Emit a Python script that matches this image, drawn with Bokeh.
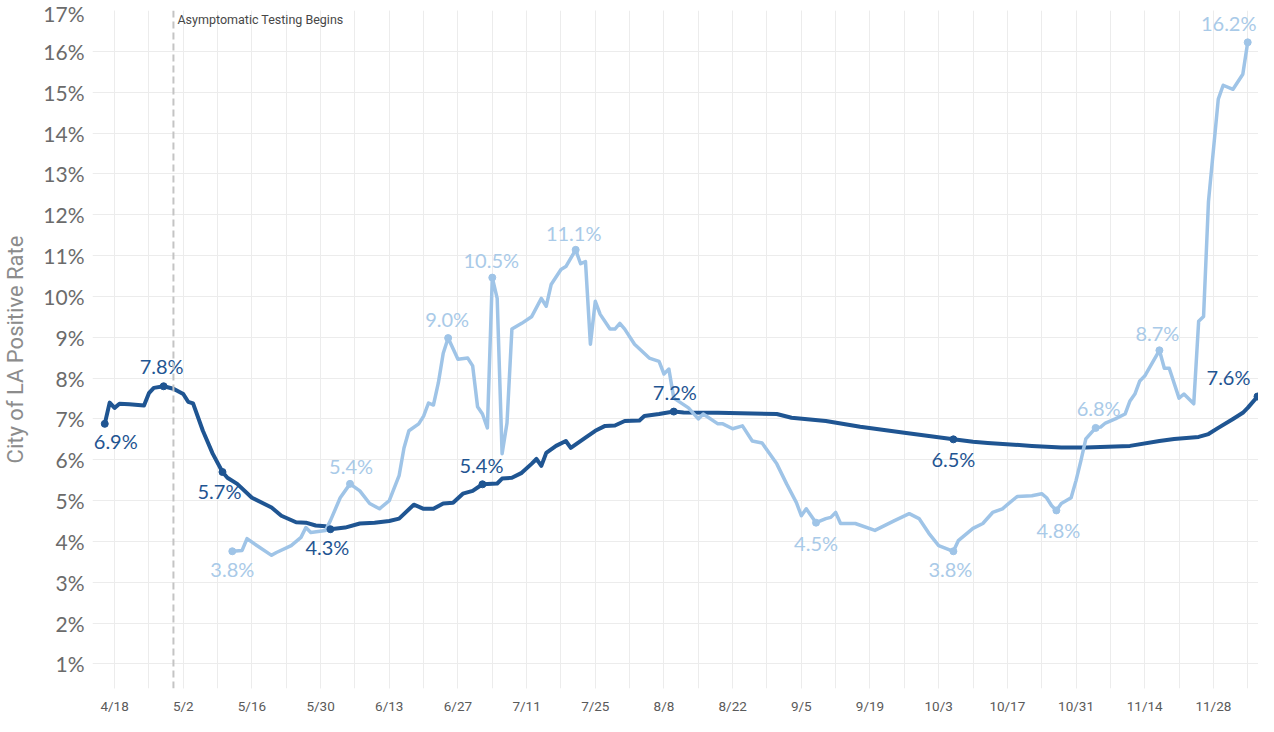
import pandas as pd
from bokeh.plotting import figure
from bokeh.models import FixedTicker, Span, ColumnDataSource, Range1d
from bokeh.core.properties import value
from bokeh.embed import file_html
from bokeh.resources import INLINE

BASE = pd.Timestamp("2020-04-18")

# ---- data ----
dark_dates = ["04-16", "04-17", "04-18", "04-19", "04-21", "04-24", "04-25", "04-26", "04-28", "04-30",
              "05-02", "05-03", "05-04", "05-06", "05-08", "05-10", "05-11", "05-13", "05-16", "05-20",
              "05-22", "05-25", "05-27", "05-29", "05-31", "06-01", "06-04", "06-07", "06-10", "06-13",
              "06-15", "06-18", "06-20", "06-22", "06-24", "06-26", "06-28", "06-30", "07-02", "07-05",
              "07-06", "07-08", "07-10", "07-12", "07-13", "07-14", "07-15", "07-17", "07-19", "07-20",
              "07-23", "07-25", "07-27", "07-29", "07-31", "08-03", "08-04", "08-07", "08-10", "08-12",
              "08-19", "08-31", "09-03", "09-10", "09-17", "09-26", "10-06", "10-10", "10-13", "10-22",
              "10-28", "11-02", "11-11", "11-17", "11-20", "11-25", "11-27", "11-29", "12-02", "12-04",
              "12-05", "12-07"]
dark_values = [6.88, 7.40, 7.27, 7.37, 7.36, 7.33, 7.63, 7.76, 7.80, 7.74,
               7.61, 7.42, 7.38, 6.71, 6.15, 5.70, 5.56, 5.41, 5.07, 4.83,
               4.63, 4.47, 4.46, 4.39, 4.37, 4.30, 4.34, 4.44, 4.46, 4.50,
               4.56, 4.90, 4.80, 4.80, 4.93, 4.95, 5.17, 5.24, 5.40, 5.42,
               5.54, 5.56, 5.68, 5.90, 6.02, 5.85, 6.17, 6.34, 6.46, 6.29,
               6.54, 6.71, 6.83, 6.84, 6.95, 6.96, 7.07, 7.12, 7.18, 7.16,
               7.15, 7.12, 7.03, 6.95, 6.81, 6.66, 6.50, 6.44, 6.41, 6.34,
               6.30, 6.30, 6.34, 6.46, 6.51, 6.56, 6.63, 6.78, 7.00, 7.15,
               7.27, 7.55]

light_dates = ["05-12", "05-14", "05-15", "05-17", "05-20", "05-21", "05-24", "05-26", "05-27", "05-28",
               "05-31", "06-01", "06-03", "06-05", "06-07", "06-09", "06-11", "06-13", "06-15", "06-16",
               "06-17", "06-19", "06-20", "06-21", "06-22", "06-23", "06-24", "06-25", "06-27", "06-29",
               "06-30", "07-01", "07-02", "07-03", "07-04", "07-05", "07-06", "07-07", "07-08", "07-10",
               "07-12", "07-14", "07-15", "07-16", "07-18", "07-19", "07-21", "07-22", "07-23", "07-24",
               "07-25", "07-26", "07-28", "07-29", "07-30", "07-31", "08-02", "08-05", "08-07", "08-08",
               "08-09", "08-10", "08-13", "08-15", "08-16", "08-19", "08-20", "08-22", "08-24", "08-26",
               "08-28", "08-31", "09-02", "09-04", "09-05", "09-06", "09-08", "09-10", "09-11", "09-12",
               "09-13", "09-16", "09-20", "09-24", "09-27", "09-29", "10-01", "10-03", "10-06", "10-07",
               "10-10", "10-12", "10-14", "10-16", "10-17", "10-19", "10-22", "10-24", "10-25", "10-26",
               "10-27", "10-28", "10-30", "10-31", "11-01", "11-02", "11-04", "11-05", "11-06", "11-08",
               "11-10", "11-11", "11-12", "11-13", "11-14", "11-17", "11-18", "11-19", "11-21", "11-22",
               "11-24", "11-25", "11-26", "11-27", "11-29", "11-30", "12-02", "12-04", "12-05"]
light_values = [3.76, 3.78, 4.07, 3.90, 3.66, 3.73, 3.90, 4.10, 4.34, 4.22,
                4.27, 4.51, 5.07, 5.41, 5.24, 4.93, 4.80, 5.00, 5.61, 6.29,
                6.71, 6.88, 7.07, 7.39, 7.34, 7.88, 8.61, 8.98, 8.46, 8.49,
                8.30, 7.30, 7.12, 6.78, 10.46, 9.95, 6.15, 6.90, 9.20, 9.34,
                9.50, 9.95, 9.76, 10.29, 10.66, 10.73, 11.14, 10.80, 10.85, 8.83,
                9.88, 9.56, 9.20, 9.20, 9.34, 9.20, 8.83, 8.49, 8.41, 8.10,
                8.22, 7.51, 7.27, 7.00, 7.12, 6.88, 6.88, 6.76, 6.83, 6.46,
                6.41, 5.90, 5.41, 4.95, 4.63, 4.80, 4.46, 4.56, 4.59, 4.71,
                4.44, 4.44, 4.27, 4.51, 4.68, 4.56, 4.20, 3.90, 3.76, 4.02,
                4.32, 4.44, 4.71, 4.80, 4.90, 5.10, 5.12, 5.17, 5.07, 4.88,
                4.76, 4.93, 5.07, 5.49, 5.98, 6.51, 6.78, 6.80, 6.90, 7.00,
                7.12, 7.44, 7.61, 7.93, 8.05, 8.68, 8.24, 8.24, 7.51, 7.61,
                7.37, 9.39, 9.51, 12.32, 14.83, 15.17, 15.07, 15.44, 16.22]

dark_label_dates = ["04-16", "04-28", "05-10", "06-01", "07-02", "08-10", "10-06", "12-07"]
dark_label_texts = ["6.9%", "7.8%", "5.7%", "4.3%", "5.4%", "7.2%", "6.5%", "7.6%"]
light_label_dates = ["05-12", "06-05", "06-25", "07-04", "07-21", "09-08", "10-06", "10-27", "11-04", "11-17", "12-05"]
light_label_texts = ["3.8%", "5.4%", "9.0%", "10.5%", "11.1%", "4.5%", "3.8%", "4.8%", "6.8%", "8.7%", "16.2%"]

x_tick_dates = ["04-18", "05-02", "05-16", "05-30", "06-13", "06-27", "07-11", "07-25", "08-08",
                "08-22", "09-05", "09-19", "10-03", "10-17", "10-31", "11-14", "11-28"]
x_tick_labels = ["4/18", "5/2", "5/16", "5/30", "6/13", "6/27", "7/11", "7/25", "8/8",
                 "8/22", "9/5", "9/19", "10/3", "10/17", "10/31", "11/14", "11/28"]
y_ticks = list(range(1, 18))
y_tick_labels = [f"{t}%" for t in y_ticks]
testing_start = "04-30"
annotation_text = "Asymptomatic Testing Begins"
y_title = "City of LA Positive Rate"

# ---- styles ----
DARK = "#1f5592"
LIGHT = "#9fc4e7"
LIGHT_TXT = "#a9cae8"
GRID = "#ececec"
dark_offsets = [(11, 17), (-2, -20), (-3, 19), (-3, 18), (-1, -19), (1, -20), (0, 20), (-29, -19)]
light_offsets = [(0, 18), (1, -18), (-1, -19), (-1, -18), (-2, -17), (0, 20), (-3, 18), (2, 20), (3, -20), (-2, -17), (-19, -19)]


def day(md):
    return int((pd.Timestamp("2020-" + md) - BASE).days)


dark_x = [day(d) for d in dark_dates]
light_x = [day(d) for d in light_dates]
dark_map = dict(zip(dark_dates, dark_values))
light_map = dict(zip(light_dates, light_values))

x_ticks = [day(d) for d in x_tick_dates]
x_minor = list(range(x_ticks[0] - 7, x_ticks[-1] + 8, 7))

p = figure(width=1258, height=716, output_backend="svg", toolbar_location=None,
           x_range=Range1d(-4.5, 233.2), y_range=Range1d(0.4, 17),
           min_border_left=82, min_border_right=0, min_border_top=10, min_border_bottom=0)
p.outline_line_color = None
p.background_fill_color = "white"
p.border_fill_color = "white"

p.xaxis.ticker = FixedTicker(ticks=x_ticks, minor_ticks=x_minor)
p.xaxis.major_label_overrides = {t: l for t, l in zip(x_ticks, x_tick_labels)}
p.yaxis.ticker = FixedTicker(ticks=y_ticks)
p.yaxis.major_label_overrides = {t: l for t, l in zip(y_ticks, y_tick_labels)}

for ax in (p.xaxis, p.yaxis):
    ax.axis_line_color = None
    ax.major_tick_line_color = None
    ax.minor_tick_line_color = None
    ax.major_tick_out = 0
    ax.major_tick_in = 0
    ax.minor_tick_out = 0
    ax.minor_tick_in = 0

p.xaxis.major_label_text_font = "Roboto"
p.xaxis.major_label_text_font_size = "13.5px"
p.xaxis.major_label_text_color = "#5a5a5a"
p.xaxis.major_label_standoff = 9
p.xaxis.axis_label_standoff = 0

p.yaxis.major_label_text_font = "Lato"
p.yaxis.major_label_text_font_size = "21px"
p.yaxis.major_label_text_color = "#6b6b6b"
p.yaxis.major_label_standoff = 8
p.yaxis.axis_label = y_title
p.yaxis.axis_label_text_font = "Roboto"
p.yaxis.axis_label_text_font_size = "22px"
p.yaxis.axis_label_text_font_style = "normal"
p.yaxis.axis_label_text_color = "#8c8c8c"
p.yaxis.axis_label_standoff = 12

p.xgrid.grid_line_color = GRID
p.xgrid.minor_grid_line_color = GRID
p.ygrid.grid_line_color = GRID

p.add_layout(Span(location=day(testing_start), dimension="height", line_color="#c4c4c4",
                  line_dash="7 4", line_width=2))
p.text(x=[day(testing_start)], y=[17], text=[annotation_text], x_offset=4, y_offset=1,
       text_font=value("Roboto"), text_font_size="12.5px", text_color="#474747",
       text_align="left", text_baseline="top")

p.line(dark_x, dark_values, line_color=DARK, line_width=4, line_join="round", line_cap="round")
p.line(light_x, light_values, line_color=LIGHT, line_width=3.5, line_join="round", line_cap="round")


def labels(dates, texts, vmap, offsets, color, mcolor):
    src = ColumnDataSource(dict(
        x=[day(d) for d in dates], y=[vmap[d] for d in dates], t=texts,
        dx=[o[0] for o in offsets], dy=[o[1] for o in offsets]))
    p.scatter("x", "y", source=src, size=7, color=mcolor)
    p.text("x", "y", text="t", source=src, x_offset="dx", y_offset="dy",
           text_font=value("Lato"), text_font_size="20px", text_color=color,
           text_align="center", text_baseline="middle")


labels(dark_label_dates, dark_label_texts, dark_map, dark_offsets, DARK, DARK)
labels(light_label_dates, light_label_texts, light_map, light_offsets, LIGHT_TXT, LIGHT)

open("out.html", "w").write(file_html(p, INLINE))
